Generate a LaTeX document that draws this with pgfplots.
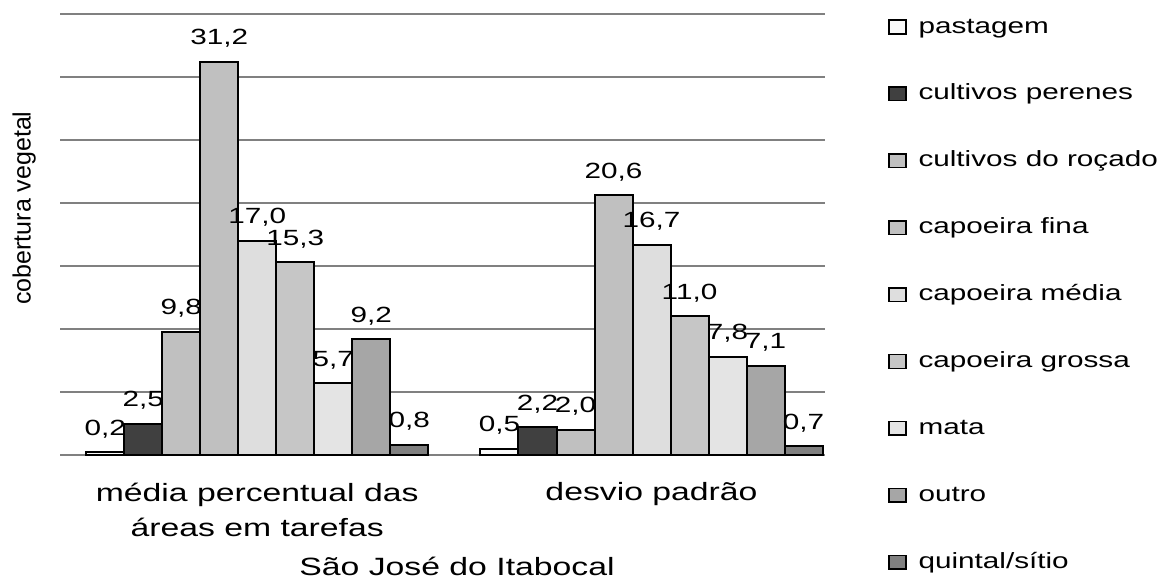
\documentclass[border=0pt]{standalone}
\usepackage{pgfplots}
\pgfplotsset{compat=1.18}
\usepackage{fontspec}
\setmainfont{Liberation Sans}[FakeStretch=1.35]
\newfontfamily\ylfont{Liberation Sans}
\definecolor{gridgray}{HTML}{808080}
\definecolor{cPast}{HTML}{FAFAFA}
\definecolor{cPere}{HTML}{404040}
\definecolor{cRoca}{HTML}{C0C0C0}
\definecolor{cFina}{HTML}{C0C0C0}
\definecolor{cMedi}{HTML}{DEDEDE}
\definecolor{cGros}{HTML}{C6C6C6}
\definecolor{cMata}{HTML}{E4E4E4}
\definecolor{cOutr}{HTML}{A6A6A6}
\definecolor{cQuin}{HTML}{808080}
\pgfplotsset{sqleg/.style={legend image code/.code={\draw[##1,line width=0.75pt] (0pt,-3.4pt) rectangle (8.5pt,3.4pt);}}}
\begin{document}
\begin{tikzpicture}
\path[use as bounding box] (-30pt,-62pt) rectangle (552.5pt,227.5pt);
\begin{axis}[
  scale only axis, width=382.5pt, height=220.5pt,
  ybar=0pt, bar width=19pt,
  xmin=-0.5, xmax=1.44, ymin=0, ymax=35,
  xtick={0,1},
  xticklabels={{média percentual das\\áreas em tarefas},{desvio padrão}},
  ytick={0,5,...,35}, yticklabels={},
  major tick length=0pt,
  ymajorgrids, grid style={draw=gridgray, line width=0.6pt},
  axis line style={draw=none},
  xticklabel style={align=center, font=\fontsize{12.5}{17.5}\selectfont, anchor=north, inner sep=0pt, yshift=-13.7pt},
  xlabel={São José do Itabocal},
  xlabel style={at={(rel axis cs:0.519,0)}, anchor=base, yshift=-60pt, font=\fontsize{12.5}{15}\selectfont, inner sep=0pt},
  ylabel={cobertura vegetal},
  ylabel style={at={(rel axis cs:-0.047,0.56)}, anchor=center, font=\ylfont\fontsize{12.5}{15}\selectfont, inner sep=0pt},
  every axis plot/.append style={draw=black, line width=1pt},
  nodes near coords={\pgfmathprintnumber[fixed,fixed zerofill,precision=1,use comma,assume math mode=true]{\pgfplotspointmeta}},
  every node near coord/.append style={font=\fontsize{11}{13}\selectfont, anchor=base, inner sep=0pt, yshift=8.5pt},
  legend cell align=left,
  legend style={at={(rel axis cs:1,1)}, anchor=north west, xshift=31.5pt, draw=none, fill=none, inner sep=0pt, outer sep=0pt, row sep=20.45pt, column sep=6pt, font=\fontsize{11}{13}\selectfont, nodes={inner sep=0pt, text height=9.5pt, text depth=3.5pt}},
]
\addplot[sqleg, fill=cPast] coordinates {(0,0.2) (1,0.5)};
\addplot[sqleg, fill=cPere] coordinates {(0,2.5) (1,2.2)};
\addplot[sqleg, fill=cRoca] coordinates {(0,9.8) (1,2.0)};
\addplot[sqleg, fill=cFina] coordinates {(0,31.2) (1,20.6)};
\addplot[sqleg, fill=cMedi] coordinates {(0,17.0) (1,16.7)};
\addplot[sqleg, fill=cGros] coordinates {(0,15.3) (1,11.0)};
\addplot[sqleg, fill=cMata] coordinates {(0,5.7) (1,7.8)};
\addplot[sqleg, fill=cOutr] coordinates {(0,9.2) (1,7.1)};
\addplot[sqleg, fill=cQuin] coordinates {(0,0.8) (1,0.7)};
\legend{pastagem, cultivos perenes, cultivos do roçado, capoeira fina, capoeira média, capoeira grossa, mata, outro, quintal/sítio}
\end{axis}
\end{tikzpicture}
\end{document}
